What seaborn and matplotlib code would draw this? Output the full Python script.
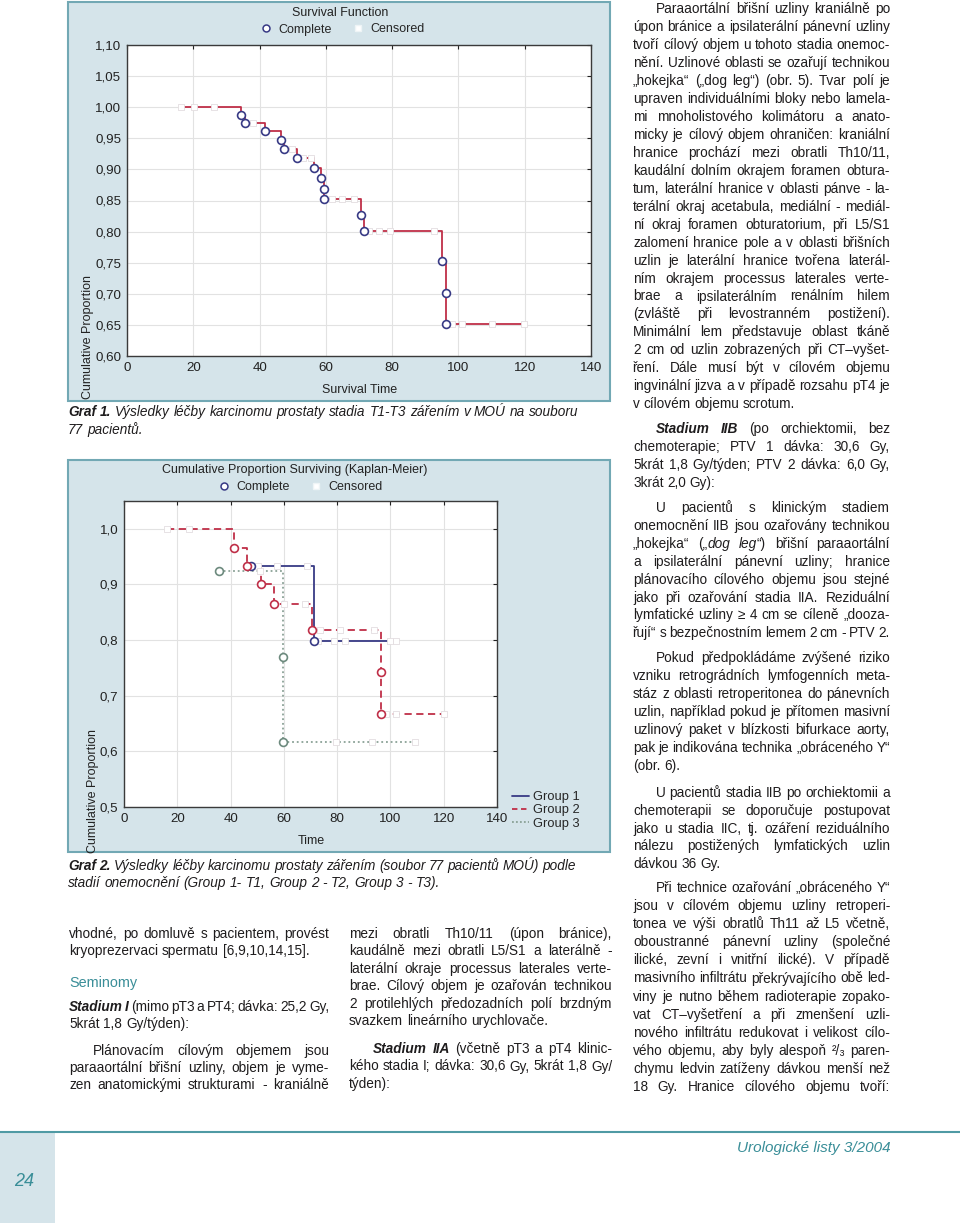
import matplotlib
matplotlib.use('Agg')
import matplotlib.pyplot as plt
from matplotlib import font_manager
from matplotlib.lines import Line2D
from matplotlib.patches import Rectangle
import seaborn as sns

# ---------------- chart values ----------------
x_ticks = [0, 20, 40, 60, 80, 100, 120, 140]

# Graf 1 - survival function, whole cohort
top_yticks = [0.60, 0.65, 0.70, 0.75, 0.80, 0.85, 0.90, 0.95, 1.00, 1.05, 1.10]
top_ylabels = ['0,60', '0,65', '0,70', '0,75', '0,80', '0,85', '0,90', '0,95', '1,00', '1,05', '1,10']
top_start = 16.4
top_end = 119.9
top_event_t = [34.4, 35.5, 41.5, 46.4, 47.3, 51.2, 56.5, 58.5, 59.3, 59.3, 70.5, 71.4, 95.1, 96.2, 96.2]
top_event_s = [0.987, 0.974, 0.961, 0.947, 0.933, 0.918, 0.903, 0.886, 0.869, 0.852, 0.827, 0.801, 0.752, 0.702, 0.651]
top_cens_t = [16.4, 20.2, 26.1, 38.0, 49.8, 53.0, 55.5, 62.0, 65.0, 68.5, 73.0, 76.0, 79.5, 92.5, 98.0, 101.0, 110.0, 119.9]
top_cens_s = [1.0, 1.0, 1.0, 0.974, 0.933, 0.918, 0.918, 0.852, 0.852, 0.852, 0.801, 0.801, 0.801, 0.801, 0.651, 0.651, 0.651, 0.651]

# Graf 2 - Kaplan-Meier by group
bot_yticks = [0.5, 0.6, 0.7, 0.8, 0.9, 1.0]
bot_ylabels = ['0,5', '0,6', '0,7', '0,8', '0,9', '1,0']
group_names = ['Group 1', 'Group 2', 'Group 3']

g1_start = None
g1_end = 102.0
g1_event_t = [47.5, 71.4]
g1_event_s = [0.934, 0.799]
g1_cens_t = [57.5, 68.5, 73.0, 79.0, 83.0, 100.0, 102.0]
g1_cens_s = [0.934, 0.934, 0.799, 0.799, 0.799, 0.799, 0.799]

g2_start = 16.0
g2_end = 120.0
g2_event_t = [41.3, 46.3, 51.5, 56.4, 70.4, 96.6, 96.6]
g2_event_s = [0.966, 0.934, 0.900, 0.865, 0.818, 0.742, 0.668]
g2_cens_t = [16.0, 24.5, 50.3, 60.0, 68.0, 73.5, 81.0, 94.0, 98.5, 102.0, 120.0]
g2_cens_s = [1.0, 1.0, 0.934, 0.865, 0.865, 0.818, 0.818, 0.818, 0.668, 0.668, 0.668]

g3_start = None
g3_end = 109.1
g3_event_t = [35.5, 59.6, 59.6]
g3_event_s = [0.924, 0.769, 0.616]
g3_cens_t = [51.0, 79.5, 93.0, 109.1]
g3_cens_s = [0.924, 0.616, 0.616, 0.616]

# ---------------- page text ----------------
cap1 = ["*Graf *1. Výsledky léčby karcinomu prostaty stadia T1-T3 zářením v MOÚ na souboru",
        "77 pacientů."]
cap2 = ["*Graf *2. Výsledky léčby karcinomu prostaty zářením (soubor 77 pacientů MOÚ) podle",
        "stadií onemocnění (Group 1- T1, Group 2 - T2, Group 3 - T3)."]

left_a = ["vhodné, po domluvě s pacientem, provést",
          "kryoprezervaci spermatu [6,9,10,14,15]."]
left_b = ["*Stadium *I (mimo pT3 a PT4; dávka: 25,2 Gy,",
          "5krát 1,8 Gy/týden):"]
left_c = ["Plánovacím cílovým objemem jsou",
          "paraaortální břišní uzliny, objem je vyme-",
          "zen anatomickými strukturami - kraniálně"]

mid_a = ["mezi obratli Th10/11 (úpon bránice),",
         "kaudálně mezi obratli L5/S1 a laterálně -",
         "laterální okraje processus laterales verte-",
         "brae. Cílový objem je ozařován technikou",
         "2 protilehlých předozadních polí brzdným",
         "svazkem lineárního urychlovače."]
mid_b = ["*Stadium *IIA (včetně pT3 a pT4 klinic-",
         "kého stadia I; dávka: 30,6 Gy, 5krát 1,8 Gy/",
         "týden):"]

right_a = ["Paraaortální břišní uzliny kraniálně po",
           "úpon bránice a ipsilaterální pánevní uzliny",
           "tvoří cílový objem u tohoto stadia onemoc-",
           "nění. Uzlinové oblasti se ozařují technikou",
           "„hokejka“ („dog leg“) (obr. 5). Tvar polí je",
           "upraven individuálními bloky nebo lamela-",
           "mi mnoholistového kolimátoru a anato-",
           "micky je cílový objem ohraničen: kraniální",
           "hranice prochází mezi obratli Th10/11,",
           "kaudální dolním okrajem foramen obtura-",
           "tum, laterální hranice v oblasti pánve - la-",
           "terální okraj acetabula, mediální - mediál-",
           "ní okraj foramen obturatorium, při L5/S1",
           "zalomení hranice pole a v oblasti břišních",
           "uzlin je laterální hranice tvořena laterál-",
           "ním okrajem processus laterales verte-",
           "brae a ipsilaterálním renálním hilem",
           "(zvláště při levostranném postižení).",
           "Minimální lem představuje oblast tkáně",
           "2 cm od uzlin zobrazených při CT–vyšet-",
           "ření. Dále musí být v cílovém objemu",
           "ingvinální jizva a v případě rozsahu pT4 je",
           "v cílovém objemu scrotum."]
right_b = ["*Stadium *IIB (po orchiektomii, bez",
           "chemoterapie; PTV 1 dávka: 30,6 Gy,",
           "5krát 1,8 Gy/týden; PTV 2 dávka: 6,0 Gy,",
           "3krát 2,0 Gy):"]
right_c = ["U pacientů s klinickým stadiem",
           "onemocnění IIB jsou ozařovány technikou",
           "„hokejka“ („|_dog _leg|“) břišní paraaortální",
           "a ipsilaterální pánevní uzliny; hranice",
           "plánovacího cílového objemu jsou stejné",
           "jako při ozařování stadia IIA. Reziduální",
           "lymfatické uzliny ≥ 4 cm se cíleně „dooza-",
           "řují“ s bezpečnostním lemem 2 cm - PTV 2."]
right_d = ["Pokud předpokládáme zvýšené riziko",
           "vzniku retrográdních lymfogenních meta-",
           "stáz z oblasti retroperitonea do pánevních",
           "uzlin, například pokud je přítomen masivní",
           "uzlinový paket v blízkosti bifurkace aorty,",
           "pak je indikována technika „obráceného Y“",
           "(obr. 6)."]
right_e = ["U pacientů stadia IIB po orchiektomii a",
           "chemoterapii se doporučuje postupovat",
           "jako u stadia IIC, tj. ozáření reziduálního",
           "nálezu postižených lymfatických uzlin",
           "dávkou 36 Gy."]
right_f = ["Při technice ozařování „obráceného Y“",
           "jsou v cílovém objemu uzliny retroperi-",
           "tonea ve výši obratlů Th11 až L5 včetně,",
           "oboustranné pánevní uzliny (společné",
           "ilické, zevní i vnitřní ilické). V případě",
           "masivního infiltrátu překrývajícího obě led-",
           "viny je nutno během radioterapie zopako-",
           "vat CT–vyšetření a při zmenšení uzli-",
           "nového infiltrátu redukovat i velikost cílo-",
           "vého objemu, aby byly alespoň ²/₃ paren-",
           "chymu ledvin zatíženy dávkou menší než",
           "18 Gy. Hranice cílového objemu tvoří:"]

# ---------------- style ----------------
sns.set_style('white')
plt.rcParams['font.family'] = ['Liberation Sans', 'DejaVu Sans']

# the page text is set in a condensed grotesque; use the narrow cut if it is there
installed = {f.name for f in font_manager.fontManager.ttflist}
if 'Liberation Sans Narrow' in installed:
    TEXT_FAMILY = ['Liberation Sans Narrow', 'DejaVu Sans']
    BODY = 10.8
else:
    TEXT_FAMILY = ['Liberation Sans', 'DejaVu Sans']
    BODY = 9.8

PANEL = '#d5e4ea'
BORDER = '#72a8b4'
TEAL = '#3a8e98'
INK = '#1e1c1d'
NAVY = '#383a85'
RED = '#bf2f48'
GREY_GREEN = '#8aa196'
CENSOR_EDGE = '#e3dde0'

W, H = 960, 1223
fig = plt.figure(figsize=(W / 100, H / 100), dpi=100)
renderer = fig.canvas.get_renderer()


def fx(x):
    return x / W


def fy(y):
    return 1 - y / H


def box(l, t, r, b, **kw):
    fig.add_artist(Rectangle((fx(l), fy(b)), (r - l) / W, (b - t) / H,
                             transform=fig.transFigure, **kw))


def axes_px(l, t, r, b):
    return fig.add_axes([fx(l), fy(b), (r - l) / W, (b - t) / H])


def style_axes(ax, ylim, yticks, ylabels):
    ax.set_facecolor('white')
    ax.set_xlim(0, 140)
    ax.set_ylim(*ylim)
    ax.set_xticks(x_ticks)
    ax.set_xticklabels([str(v) for v in x_ticks])
    ax.set_yticks(yticks)
    ax.set_yticklabels(ylabels)
    ax.grid(True, color='#e2e2e2', lw=0.8)
    ax.set_axisbelow(True)
    ax.tick_params(direction='in', length=3, width=0.8, top=True, right=True,
                   labelsize=9.6, colors='#222222', pad=4)
    for s in ax.spines.values():
        s.set_visible(True)
        s.set_color('#3a3a3a')
        s.set_linewidth(1.0)
    ax.set_xlabel('')
    ax.set_ylabel('')


def km(ax, start, end, ev_t, ev_s, c_t, c_s, color, ls, edge):
    xs = ([start] if start is not None else []) + ev_t + [end]
    ys = ([1.0] if start is not None else []) + ev_s + [ev_s[-1]]
    sns.lineplot(x=xs, y=ys, ax=ax, estimator=None, sort=False, drawstyle='steps-post',
                 color=color, linestyle=ls, linewidth=1.3, legend=False, zorder=2)
    sns.scatterplot(x=c_t, y=c_s, ax=ax, marker='s', s=20, color='white',
                    edgecolor=CENSOR_EDGE, linewidth=0.6, legend=False, zorder=3)
    sns.scatterplot(x=ev_t, y=ev_s, ax=ax, marker='o', s=32, color='white',
                    edgecolor=edge, linewidth=1.2, legend=False, zorder=4)


def status_legend(cx, cy):
    hs = [Line2D([], [], marker='o', ls='', mfc='white', mec=NAVY, ms=5, mew=1.1),
          Line2D([], [], marker='s', ls='', mfc='white', mec='#eef4f6', ms=5)]
    fig.legend(hs, ['Complete', 'Censored'], ncol=2, loc='center',
               bbox_to_anchor=(fx(cx), fy(cy)), frameon=False, fontsize=9,
               handlelength=1.0, handletextpad=0.5, columnspacing=1.6)


# ---------------- Graf 1 ----------------
box(68, 2, 610, 401, facecolor=PANEL, edgecolor=BORDER, lw=1.5, zorder=-1)
ax1 = axes_px(127, 45, 591, 356)
km(ax1, top_start, top_end, top_event_t, top_event_s, top_cens_t, top_cens_s,
   RED, '-', NAVY)
style_axes(ax1, (0.6, 1.1), top_yticks, top_ylabels)
fig.text(fx(340), fy(13), 'Survival Function', ha='center', va='center', fontsize=9, color='#222')
status_legend(342, 29.5)
fig.text(fx(360), fy(390), 'Survival Time', ha='center', va='center', fontsize=9, color='#222')
fig.text(fx(88.5), fy(337), 'Cumulative Proportion', ha='center', va='center',
         rotation=90, fontsize=9, color='#222')

# ---------------- Graf 2 ----------------
box(68, 460, 610, 852, facecolor=PANEL, edgecolor=BORDER, lw=1.5, zorder=-1)
ax2 = axes_px(124, 501, 497, 807)
km(ax2, g1_start, g1_end, g1_event_t, g1_event_s, g1_cens_t, g1_cens_s, NAVY, '-', NAVY)
km(ax2, g2_start, g2_end, g2_event_t, g2_event_s, g2_cens_t, g2_cens_s, RED, (0, (4, 2.5)), RED)
km(ax2, g3_start, g3_end, g3_event_t, g3_event_s, g3_cens_t, g3_cens_s, GREY_GREEN, (0, (1, 1.6)), '#6d8a7e')
style_axes(ax2, (0.5, 1.05), bot_yticks, bot_ylabels)
fig.text(fx(295), fy(470.5), 'Cumulative Proportion Surviving (Kaplan-Meier)',
         ha='center', va='center', fontsize=9, color='#222')
status_legend(300, 487.5)
fig.text(fx(311), fy(841), 'Time', ha='center', va='center', fontsize=9, color='#222')
fig.text(fx(93), fy(791), 'Cumulative Proportion', ha='center', va='center',
         rotation=90, fontsize=9, color='#222')
group_handles = [Line2D([], [], color=NAVY, lw=1.3),
                 Line2D([], [], color=RED, lw=1.3, ls=(0, (3, 2))),
                 Line2D([], [], color=GREY_GREEN, lw=1.3, ls=(0, (1, 1.2)))]
ax2.legend(group_handles, group_names, loc='upper left', bbox_to_anchor=(fx(512), fy(791)),
           bbox_transform=fig.transFigure, frameon=False, fontsize=9.3, handlelength=1.3,
           handletextpad=0.35, labelspacing=0.1, borderpad=0, borderaxespad=0)

# ---------------- justified page text ----------------
STYLES = {'': {}, '_': {'style': 'italic'}, '*': {'style': 'italic', 'weight': 'bold'}}
BASE_OFF = 4


def text_width(s, size, tag=''):
    t = fig.text(0, 0, s, fontsize=size, family=TEXT_FAMILY, **STYLES[tag])
    w = t.get_window_extent(renderer).width
    t.remove()
    return w


def parse(word, base):
    segs = []
    for part in word.split('|'):
        if part[:1] in ('*', '_') and len(part) > 1:
            segs.append((part[1:], part[0]))
        else:
            segs.append((part, base))
    return segs


def put_line(x, y, line, width=None, base='', size=BODY, color=INK):
    words = [parse(w, base) for w in line.split(' ')]
    n = len(words)
    for _ in range(4):
        arts = [[fig.text(0, 0, s, fontsize=size, color=color, ha='left', va='baseline',
                          family=TEXT_FAMILY, **STYLES[tag]) for s, tag in segs]
                for segs in words]
        widths = [[t.get_window_extent(renderer).width for t in wa] for wa in arts]
        total = sum(map(sum, widths))
        space = text_width('n n', size) - text_width('nn', size)
        gap = space
        if width is not None and n > 1:
            gap = (width - total) / (n - 1)
            if gap < 0.5 * space:
                for wa in arts:
                    for t in wa:
                        t.remove()
                size = size * (width - (n - 1) * 0.55 * space) / total
                continue
        break
    cx = x
    for wa, ww in zip(arts, widths):
        for t, w in zip(wa, ww):
            t.set_position((fx(cx), fy(y + BASE_OFF)))
            cx += w
        cx += gap


def put_par(x, y0, step, lines, width, indent=0, last_just=False, base=''):
    for i, line in enumerate(lines):
        ind = indent if i == 0 else 0
        just = (i < len(lines) - 1) or last_just
        put_line(x + ind, y0 + i * step, line, (width - ind) if just else None, base)


# captions
put_line(68, 412, cap1[0], 510, base='_')
put_line(68, 430, cap1[1], None, base='_')
put_line(68, 866, cap2[0], 508, base='_')
put_line(68, 883, cap2[1], None, base='_')

# left column
put_par(69, 934, 17, left_a, 260)
fig.text(fx(69), fy(983 + BASE_OFF), 'Seminomy', fontsize=BODY + 0.6, color=TEAL,
         va='baseline', family=TEXT_FAMILY)
put_par(69, 1007, 17, left_b, 260)
put_par(69, 1051, 17, left_c, 260, indent=24, last_just=True)

# middle column
put_par(349, 934, 17.4, mid_a, 263)
put_par(349, 1049, 17.5, mid_b, 263, indent=24)

# right column
put_par(633, 9.3, 17.95, right_a, 257, indent=23)
put_par(633, 429, 18.1, right_b, 257, indent=23)
put_par(633, 508.3, 17.86, right_c, 257, indent=23, last_just=True)
put_par(633, 658.3, 17.9, right_d, 257, indent=23)
put_par(633, 793.3, 17.7, right_e, 257, indent=23)
put_par(633, 888.3, 18.04, right_f, 257, indent=23, last_just=True)

# ---------------- footer ----------------
box(0, 1133, 55, 1223, facecolor=PANEL, edgecolor='none', zorder=-1)
fig.add_artist(Line2D([0, 1], [fy(1132), fy(1132)], transform=fig.transFigure,
                      color='#4f9aa4', lw=1.5))
fig.text(fx(24.5), fy(1182), '24', ha='center', va='center', fontsize=13,
         style='italic', color=TEAL, family=TEXT_FAMILY)
fig.text(fx(891), fy(1148), 'Urologické listy 3/2004', ha='right', va='center',
         fontsize=11, style='italic', color=TEAL, family=TEXT_FAMILY)

fig.savefig('out.png', dpi=100)
